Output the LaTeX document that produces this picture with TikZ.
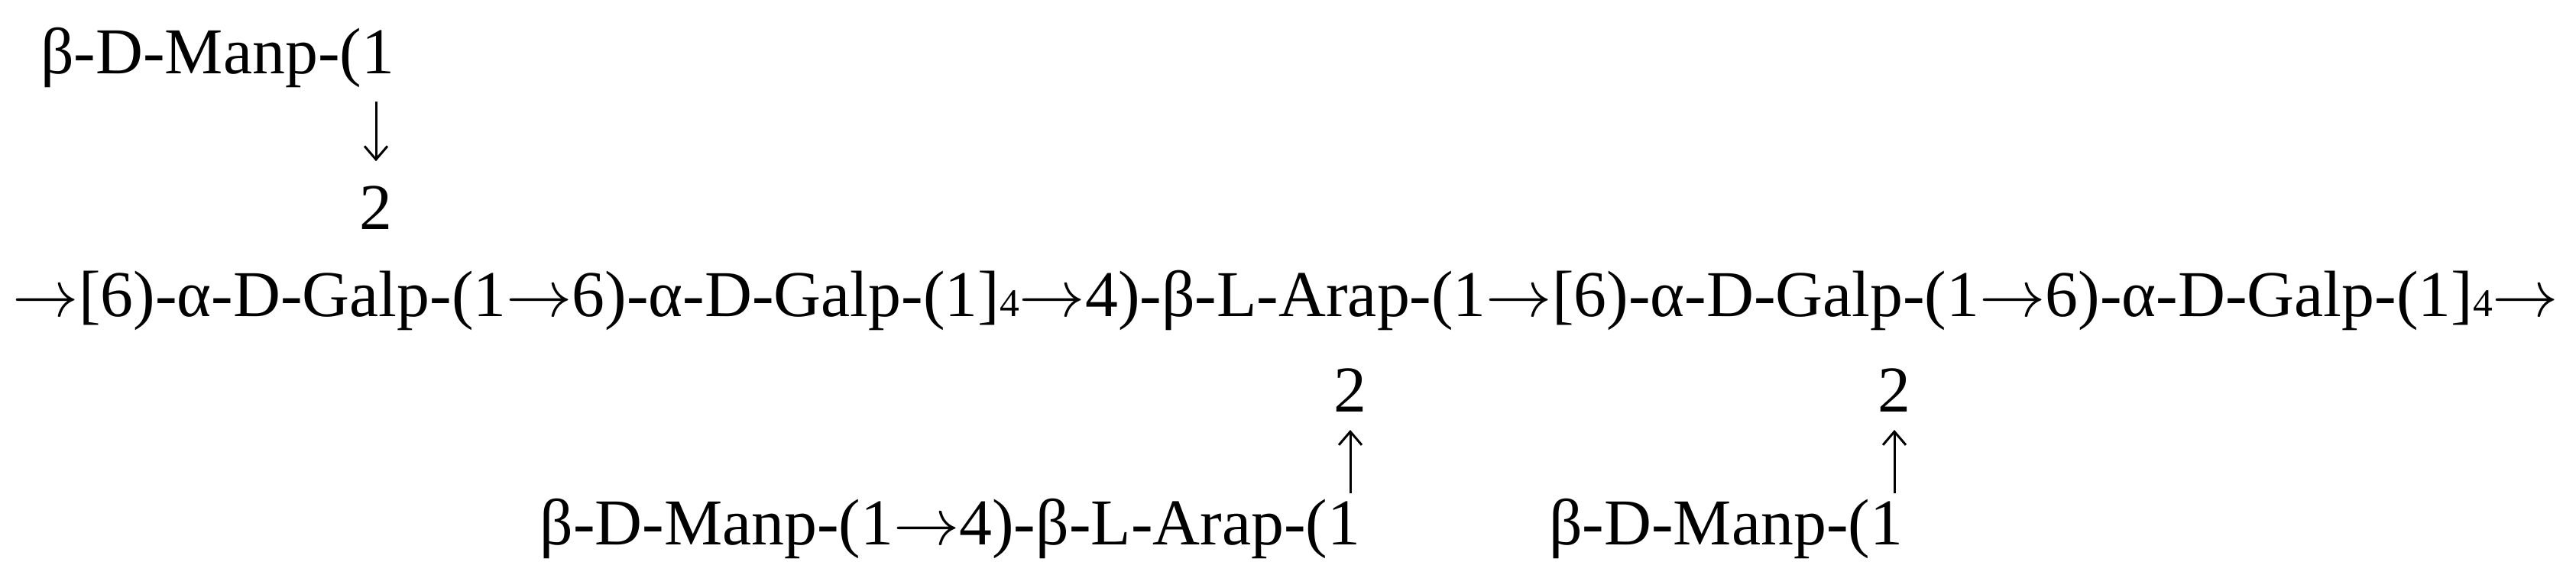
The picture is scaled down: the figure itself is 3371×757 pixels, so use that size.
\documentclass[tikz,border=0pt]{standalone}
\usepackage{fontspec}
\setmainfont{Liberation Serif}
\usetikzlibrary{arrows.meta}
\newcommand{\subfour}{{\fontsize{10.3}{10.3}\selectfont 4}}
\newcommand{\rarr}{$\rightarrow$}
\begin{document}
\begin{tikzpicture}[x=0.2pt,y=-0.2pt,
  txt/.style={inner sep=0pt,outer sep=0pt,font=\fontsize{17.15}{21}\selectfont},
  link/.style={-{Straight Barb[length=3.5pt,width=6pt]},line width=0.6pt}]
\useasboundingbox (0,0) rectangle (3371,757);
% main chain
\node[txt,anchor=base west] (main) at (17,415)
  {\rarr[6)-α-D-Galp-(1\rarr6)-α-D-Galp-(1]\subfour\rarr4)-β-L-Arap-(1\rarr[6)-α-D-Galp-(1\rarr6)-α-D-Galp-(1]\subfour\rarr};
% top branch
\node[txt,anchor=base east] (man1) at (516,97) {β-D-Manp-(1};
\node[txt,anchor=base] (two1) at (492,301) {2};
\draw[link,shorten <=3.6pt,shorten >=6.6pt] (man1.south -| two1.north) -- (two1.north);
% bottom branch 1
\node[txt,anchor=base east] (man2) at (1780,714) {β-D-Manp-(1\rarr4)-β-L-Arap-(1};
\node[txt,anchor=base] (two2) at (1767,540) {2};
\draw[link,shorten <=1.6pt,shorten >=4.6pt] (man2.north -| two2.south) -- (two2.south);
% bottom branch 2
\node[txt,anchor=base east] (man3) at (2490,714) {β-D-Manp-(1};
\node[txt,anchor=base] (two3) at (2479,540) {2};
\draw[link,shorten <=1.6pt,shorten >=4.6pt] (man3.north -| two3.south) -- (two3.south);
\end{tikzpicture}
\end{document}
